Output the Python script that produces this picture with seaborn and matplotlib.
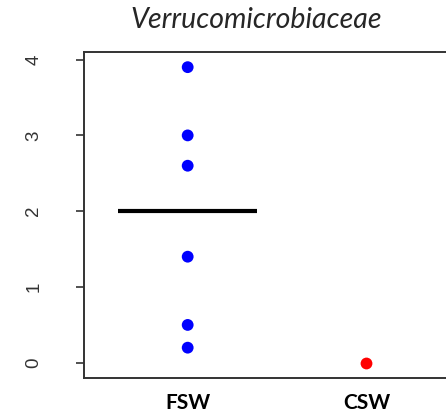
import matplotlib
matplotlib.use("Agg")
import matplotlib.pyplot as plt
import seaborn as sns
import pandas as pd

categories = ["FSW", "CSW"]
fsw_values = [3.9, 3.0, 2.6, 1.4, 0.5, 0.2]
csw_values = [0.0]
fsw_mean_line = 2.0
colors = {"FSW": "#0000FF", "CSW": "#FF0000"}
title = "Verrucomicrobiaceae"

df = pd.DataFrame({
    "group": ["FSW"] * len(fsw_values) + ["CSW"] * len(csw_values),
    "value": fsw_values + csw_values,
})

sns.set_style("white")
fig = plt.figure(figsize=(4.46, 4.18), dpi=100)
ax = fig.add_axes([84/446, 1 - 378/418, 1 - 84/446 + 0.01, (378 - 52)/418])

sns.stripplot(data=df, x="group", y="value", hue="group", order=categories,
              palette=colors, jitter=False, size=8.5, linewidth=0, legend=False, ax=ax)
ax.hlines(fsw_mean_line, -0.39, 0.39, colors="black", linewidth=3)

ax.set_xlim(-0.58, 1.47)
ax.set_ylim(-0.2, 4.1)
ax.set_yticks([0, 1, 2, 3, 4])
ax.set_yticklabels(["0", "1", "2", "3", "4"], rotation=90, va="center",
                   fontsize=13.5, color="#333333", family="Liberation Sans")
ax.tick_params(axis="y", length=6, width=1.2, color="#333333", pad=24, left=True)
ax.tick_params(axis="x", length=0, pad=11)
for lab in ax.get_xticklabels():
    lab.set_fontweight("bold")
    lab.set_fontsize(15)
    lab.set_family("Lato")
    lab.set_color("black")
ax.set_xlabel("")
ax.set_ylabel("")
for s in ["left", "bottom", "top"]:
    ax.spines[s].set_visible(True)
    ax.spines[s].set_color("#333333")
    ax.spines[s].set_linewidth(1.4)
ax.spines["right"].set_visible(False)

fig.text(256/446, 1 - 20/418, title, ha="center", va="center",
         fontsize=20.5, style="italic", family="Lato")

fig.savefig("out.png", dpi=100)
